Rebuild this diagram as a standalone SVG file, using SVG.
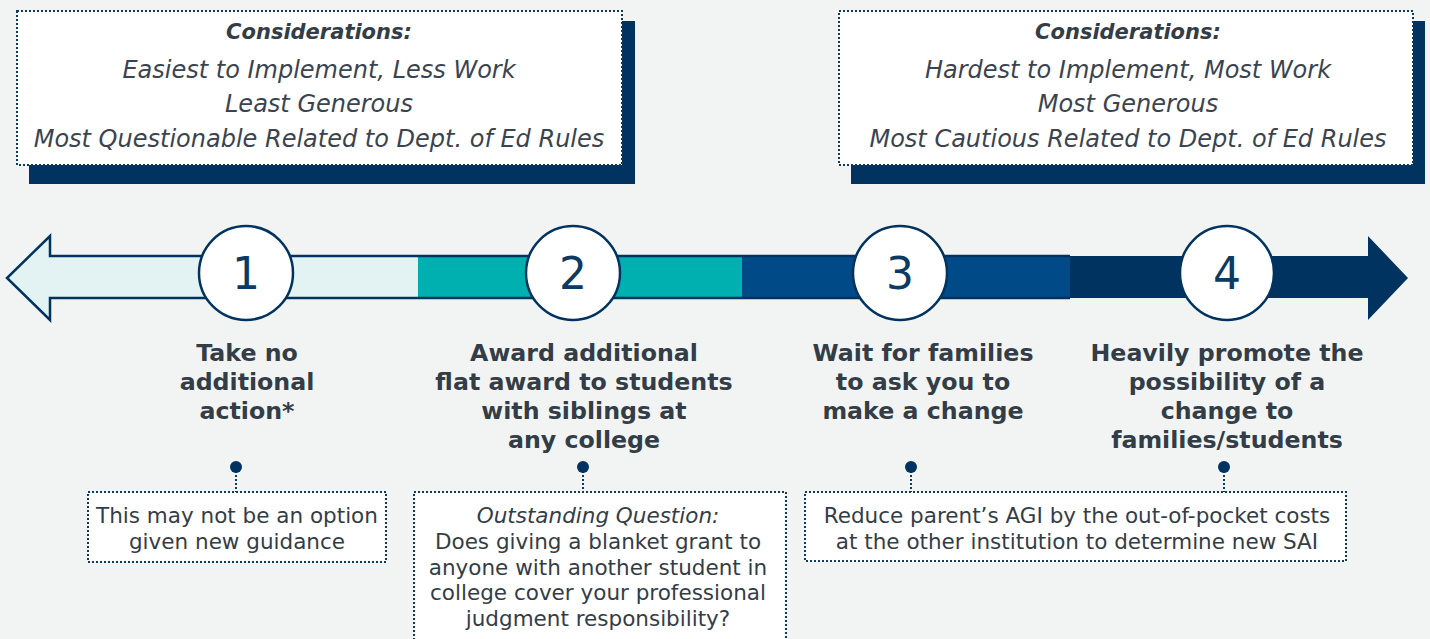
<svg xmlns="http://www.w3.org/2000/svg" width="1430" height="639" viewBox="0 0 1430 639">
<style>
.cons-b{font-family:"DejaVu Sans",Verdana,sans-serif;font-size:21px;font-weight:bold;font-style:italic;fill:#333d47;text-anchor:middle}
.cons{font-family:"DejaVu Sans",Verdana,sans-serif;font-size:24px;font-style:italic;fill:#3a4450;text-anchor:middle}
.lbl{font-family:"DejaVu Sans",Verdana,sans-serif;font-size:23.7px;font-weight:bold;fill:#333d47;text-anchor:middle}
.num{font-family:"DejaVu Sans",Verdana,sans-serif;font-size:44px;fill:#0b3a63;text-anchor:middle}
.note{font-family:"DejaVu Sans",Verdana,sans-serif;font-size:21.5px;fill:#333d47;text-anchor:middle}
.dot-box{fill:#ffffff;stroke:#0b3a63;stroke-width:2;stroke-dasharray:2 2}
.shadow{fill:#00335f}
.circ{fill:#ffffff;stroke:#00335f;stroke-width:2.5}
.pin{fill:#00335f}
.lead{stroke:#0b3a63;stroke-width:2;stroke-dasharray:2 2;fill:none}
</style>
<rect width="1430" height="639" fill="#f2f4f3"/>

<g id="considerations-left">
<rect class="shadow" x="29" y="21" width="606" height="163"/>
<rect class="dot-box" x="17" y="11" width="605" height="154"/>
<text class="cons-b" x="319" y="39">Considerations:</text>
<text class="cons" x="319" y="78">Easiest to Implement, Less Work</text>
<text class="cons" x="319" y="112">Least Generous</text>
<text class="cons" x="319" y="147">Most Questionable Related to Dept. of Ed Rules</text>
</g>

<g id="considerations-right">
<rect class="shadow" x="851" y="21" width="574" height="163"/>
<rect class="dot-box" x="839" y="11" width="574" height="154"/>
<text class="cons-b" x="1128" y="39">Considerations:</text>
<text class="cons" x="1128" y="78">Hardest to Implement, Most Work</text>
<text class="cons" x="1128" y="112">Most Generous</text>
<text class="cons" x="1128" y="147">Most Cautious Related to Dept. of Ed Rules</text>
</g>

<g id="arrow">
<rect x="418" y="256" width="324" height="42" fill="#00b0b0"/>
<rect x="742" y="256" width="328" height="42" fill="#004a87"/>
<path d="M1070,256 H1368 V236 L1408,278 L1368,320 V298 H1070 Z" fill="#00335f"/>
<line x1="418" y1="256" x2="1070" y2="256" stroke="#00335f" stroke-width="2.5"/>
<line x1="418" y1="298" x2="1070" y2="298" stroke="#00335f" stroke-width="2.5"/>
<path d="M418,256 H50 V236 L7,278 L50,320 V298 H418" fill="#e3f3f3" stroke="#00335f" stroke-width="2.5"/>
</g>

<g id="step-1">
<circle class="circ" cx="246" cy="273" r="47"/>
<text class="num" x="246" y="289">1</text>
<text class="lbl" x="247" y="361">Take no</text>
<text class="lbl" x="247" y="390">additional</text>
<text class="lbl" x="247" y="419">action*</text>
</g>

<g id="step-2">
<circle class="circ" cx="573" cy="273" r="47"/>
<text class="num" x="573" y="289">2</text>
<text class="lbl" x="584" y="361">Award additional</text>
<text class="lbl" x="584" y="390">flat award to students</text>
<text class="lbl" x="584" y="419">with siblings at</text>
<text class="lbl" x="584" y="448">any college</text>
</g>

<g id="step-3">
<circle class="circ" cx="900" cy="273" r="47"/>
<text class="num" x="900" y="289">3</text>
<text class="lbl" x="923" y="361">Wait for families</text>
<text class="lbl" x="923" y="390">to ask you to</text>
<text class="lbl" x="923" y="419">make a change</text>
</g>

<g id="step-4">
<circle class="circ" cx="1227" cy="273" r="47"/>
<text class="num" x="1227" y="289">4</text>
<text class="lbl" x="1227" y="361">Heavily promote the</text>
<text class="lbl" x="1227" y="390">possibility of a</text>
<text class="lbl" x="1227" y="419">change to</text>
<text class="lbl" x="1227" y="448">families/students</text>
</g>

<g id="connectors">
<line class="lead" x1="236" y1="467" x2="236" y2="492"/>
<line class="lead" x1="583" y1="467" x2="583" y2="492"/>
<line class="lead" x1="911" y1="467" x2="911" y2="492"/>
<line class="lead" x1="1224" y1="467" x2="1224" y2="492"/>
<circle class="pin" cx="236" cy="467" r="6"/>
<circle class="pin" cx="583" cy="467" r="6"/>
<circle class="pin" cx="911" cy="467" r="6"/>
<circle class="pin" cx="1224" cy="467" r="6"/>
</g>

<g id="note-1">
<rect class="dot-box" x="88" y="492" width="298" height="70"/>
<text class="note" x="237" y="523">This may not be an option</text>
<text class="note" x="237" y="549">given new guidance</text>
</g>

<g id="note-2">
<rect class="dot-box" x="414" y="492" width="372" height="160"/>
<text class="note" x="598" y="523" font-style="italic">Outstanding Question:</text>
<text class="note" x="598" y="549">Does giving a blanket grant to</text>
<text class="note" x="598" y="575">anyone with another student in</text>
<text class="note" x="598" y="600">college cover your professional</text>
<text class="note" x="598" y="626">judgment responsibility?</text>
</g>

<g id="note-3">
<rect class="dot-box" x="805" y="492" width="541" height="69"/>
<text class="note" x="1077" y="523">Reduce parent’s AGI by the out-of-pocket costs</text>
<text class="note" x="1077" y="549">at the other institution to determine new SAI</text>
</g>
</svg>
